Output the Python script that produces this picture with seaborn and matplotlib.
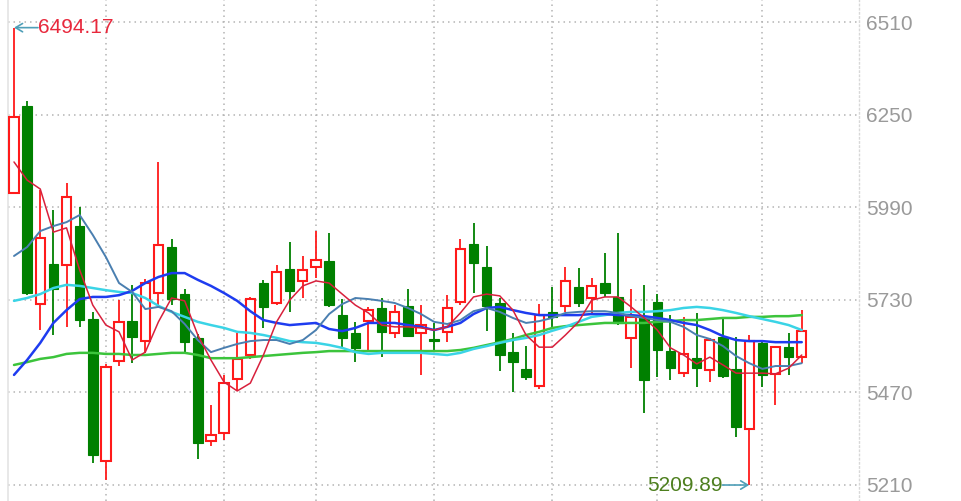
import matplotlib
matplotlib.use('Agg')
import matplotlib.pyplot as plt
import seaborn as sns
import numpy as np
import pandas as pd
from matplotlib import font_manager

# ---------------- data ----------------
opens = [6030, 6274, 5718, 5830, 5828, 5937, 5676, 5277, 5558, 5670,
         5614, 5749, 5878, 5746, 5623, 5333, 5356, 5508, 5575, 5777,
         5721, 5816, 5783, 5822, 5839, 5687, 5637, 5670, 5707, 5637,
         5713, 5637, 5620, 5640, 5724, 5887, 5822, 5721, 5583, 5536,
         5488, 5696, 5713, 5766, 5735, 5777, 5738, 5623, 5682, 5724,
         5586, 5524, 5566, 5533, 5626, 5536, 5367, 5609, 5522, 5597,
         5569]
highs = [6494.17, 6288, 6038, 5982, 6058, 5991, 5696, 5550, 5729, 5771,
         5788, 6117, 5901, 5760, 5634, 5435, 5519, 5637, 5738, 5786,
         5828, 5892, 5853, 5923, 5918, 5732, 5668, 5710, 5735, 5715,
         5760, 5715, 5665, 5743, 5901, 5946, 5881, 5735, 5637, 5600,
         5718, 5766, 5822, 5819, 5791, 5861, 5918, 5760, 5771, 5746,
         5687, 5682, 5693, 5623, 5682, 5626, 5631, 5614, 5600, 5637,
         5701]
lows = [6030, 5743, 5645, 5631, 5654, 5654, 5272, 5224, 5544, 5552,
        5581, 5715, 5715, 5578, 5283, 5319, 5336, 5474, 5564, 5651,
        5715, 5696, 5735, 5791, 5710, 5597, 5555, 5586, 5569, 5623,
        5625, 5519, 5583, 5611, 5715, 5749, 5642, 5530, 5471, 5505,
        5479, 5651, 5696, 5710, 5693, 5738, 5659, 5538, 5412, 5513,
        5505, 5513, 5485, 5499, 5510, 5345, 5209.89, 5485, 5435, 5519,
        5552]
closes = [6243, 5749, 5903, 5760, 6019, 5673, 5294, 5541, 5668, 5626,
          5777, 5884, 5732, 5611, 5328, 5350, 5496, 5564, 5732, 5710,
          5808, 5755, 5814, 5842, 5715, 5623, 5595, 5701, 5640, 5696,
          5628, 5659, 5614, 5707, 5873, 5833, 5713, 5575, 5555, 5513,
          5687, 5682, 5783, 5721, 5769, 5749, 5665, 5682, 5505, 5589,
          5538, 5578, 5538, 5617, 5516, 5373, 5614, 5519, 5597, 5569,
          5642]

ma5 = [6117, 6066, 6041, 5920, 5932, 5814, 5715, 5659, 5640, 5561,
       5583, 5668, 5735, 5727, 5631, 5561, 5499, 5474, 5496, 5575,
       5668, 5729, 5769, 5783, 5777, 5746, 5715, 5693, 5659, 5654,
       5654, 5651, 5645, 5654, 5693, 5738, 5746, 5741, 5701, 5631,
       5597, 5597, 5631, 5668, 5729, 5738, 5738, 5710, 5679, 5645,
       5595, 5575, 5550, 5569, 5547, 5524, 5524, 5524, 5522, 5538,
       5575]
ma10 = [5853, 5878, 5923, 5937, 5948, 5968, 5912, 5850, 5777, 5752,
        5704, 5710, 5698, 5662, 5617, 5583, 5595, 5606, 5614, 5617,
        5617, 5606, 5617, 5645, 5690, 5718, 5735, 5732, 5727, 5721,
        5707, 5690, 5668, 5662, 5673, 5698, 5707, 5696, 5679, 5665,
        5670, 5679, 5693, 5696, 5698, 5698, 5693, 5684, 5679, 5673,
        5668, 5654, 5631, 5620, 5600, 5572, 5552, 5536, 5544, 5544,
        5552]
ma20 = [5519, 5561, 5609, 5665, 5701, 5732, 5738, 5738, 5743, 5755,
        5777, 5794, 5805, 5805, 5786, 5769, 5749, 5727, 5698, 5673,
        5665, 5659, 5662, 5665, 5648, 5642, 5651, 5665, 5665, 5665,
        5659, 5654, 5645, 5654, 5665, 5690, 5707, 5710, 5701, 5693,
        5687, 5687, 5687, 5687, 5690, 5690, 5687, 5687, 5684, 5679,
        5673, 5665, 5659, 5645, 5628, 5617, 5614, 5614, 5611, 5611,
        5611]
ma30 = [5727, 5735, 5746, 5763, 5772, 5769, 5763, 5757, 5752, 5749,
        5735, 5713, 5696, 5682, 5668, 5659, 5651, 5640, 5637, 5631,
        5623, 5614, 5611, 5609, 5603, 5595, 5583, 5578, 5581, 5581,
        5581, 5581, 5578, 5575, 5581, 5592, 5600, 5609, 5617, 5623,
        5631, 5643, 5654, 5668, 5682, 5687, 5693, 5696, 5696, 5698,
        5701, 5707, 5710, 5707, 5701, 5693, 5684, 5676, 5668, 5659,
        5645]
ma60 = [5547, 5555, 5564, 5569, 5578, 5581, 5581, 5578, 5578, 5575,
        5575, 5578, 5581, 5581, 5575, 5566, 5566, 5566, 5569, 5572,
        5575, 5578, 5581, 5583, 5586, 5586, 5586, 5586, 5586, 5586,
        5586, 5586, 5586, 5586, 5589, 5595, 5603, 5611, 5620, 5631,
        5640, 5651, 5656, 5659, 5662, 5665, 5665, 5665, 5665, 5668,
        5670, 5673, 5673, 5676, 5679, 5679, 5682, 5682, 5684, 5684,
        5687]

y_ticks = [5210, 5470, 5730, 5990, 6250, 6510]
month_starts = [7, 16, 23, 32, 41, 49, 57]
high_label = "6494.17"
low_label = "5209.89"

# ---------------- style ----------------
sns.set_style('white')
names = {f.name for f in font_manager.fontManager.ttflist}
narrow = 'Liberation Sans Narrow' if 'Liberation Sans Narrow' in names else 'Liberation Sans'
plt.rcParams['font.family'] = [narrow, 'DejaVu Sans']
fsize = 19 if narrow == 'Liberation Sans Narrow' else 15

UP = '#ff1a1a'
DOWN = '#008000'

fig = plt.figure(figsize=(9.61, 5.01), dpi=100)
ax = fig.add_axes([8 / 961, 0, (859 - 8) / 961, 1])

n = len(opens)
x = np.arange(n)
df = pd.DataFrame({'x': x, 'open': opens, 'high': highs, 'low': lows, 'close': closes,
                   'ma5': ma5, 'ma10': ma10, 'ma20': ma20, 'ma30': ma30, 'ma60': ma60})
up = df['close'] >= df['open']

# wicks
ax.vlines(df['x'][up], df['low'][up], df['high'][up], color=UP, lw=1.3, zorder=2)
ax.vlines(df['x'][~up], df['low'][~up], df['high'][~up], color=DOWN, lw=1.3, zorder=2)
# bodies
ax.bar(df['x'][up], (df['close'] - df['open'])[up], bottom=df['open'][up], width=0.7,
       facecolor='white', edgecolor=UP, linewidth=1.5, zorder=3)
ax.bar(df['x'][~up], (df['close'] - df['open'])[~up], bottom=df['open'][~up], width=0.72,
       facecolor=DOWN, edgecolor=DOWN, linewidth=0.8, zorder=3)

# moving averages
sns.lineplot(data=df, x='x', y='ma60', ax=ax, color='#3cc43c', lw=1.8, zorder=4)
sns.lineplot(data=df, x='x', y='ma30', ax=ax, color='#3ad4e6', lw=1.8, zorder=4)
sns.lineplot(data=df, x='x', y='ma20', ax=ax, color='#1e3cf0', lw=1.8, zorder=5)
sns.lineplot(data=df, x='x', y='ma10', ax=ax, color='#4a7fb0', lw=1.4, zorder=5)
sns.lineplot(data=df, x='x', y='ma5', ax=ax, color='#d8203c', lw=1.1, zorder=6)

ax.set_xlim(-0.457, 64.36)
ax.set_ylim(5165, 6571.8)

ax.set_yticks(y_ticks)
ax.set_yticklabels([str(v) for v in y_ticks])
ax.yaxis.tick_right()
ax.set_xticks(month_starts)
ax.set_xticklabels([])
ax.tick_params(axis='y', length=0, pad=5, labelsize=fsize, labelcolor='#9a9a9a')
ax.tick_params(axis='x', length=0)
ax.set_xlabel('')
ax.set_ylabel('')
ax.grid(True, axis='both', linestyle=(0, (1, 2.6)), color='#b4b4b4', lw=1.1, zorder=0)
ax.set_axisbelow(True)

for s in ['top', 'bottom']:
    ax.spines[s].set_visible(False)
ax.spines['left'].set_color('#e4e4e4')
ax.spines['left'].set_linewidth(1.2)
ax.spines['right'].set_color('#d8d8d8')
ax.spines['right'].set_linestyle((0, (1, 2)))
ax.spines['right'].set_linewidth(1.0)

# high / low annotations
i_hi = int(np.argmax(highs))
i_lo = int(np.argmin(lows))
ax.annotate('', xy=(i_hi, highs[i_hi]), xytext=(24, 0), textcoords='offset pixels',
            arrowprops=dict(arrowstyle='->,head_length=0.5,head_width=0.3',
                            color='#4f9fb8', lw=1.2, shrinkA=0, shrinkB=0), zorder=7)
ax.annotate(high_label, xy=(i_hi, highs[i_hi]), xytext=(24, 0), textcoords='offset pixels',
            ha='left', va='center', color='#e8283c', fontsize=fsize, zorder=7)
ax.annotate('', xy=(i_lo, lows[i_lo]), xytext=(-27, 0), textcoords='offset pixels',
            arrowprops=dict(arrowstyle='->,head_length=0.5,head_width=0.3',
                            color='#4f9fb8', lw=1.2, shrinkA=0, shrinkB=0), zorder=7)
ax.annotate(low_label, xy=(i_lo, lows[i_lo]), xytext=(-27, 0), textcoords='offset pixels',
            ha='right', va='center', color='#4d7f1e', fontsize=fsize, zorder=7)

fig.savefig('out.png', dpi=100)
